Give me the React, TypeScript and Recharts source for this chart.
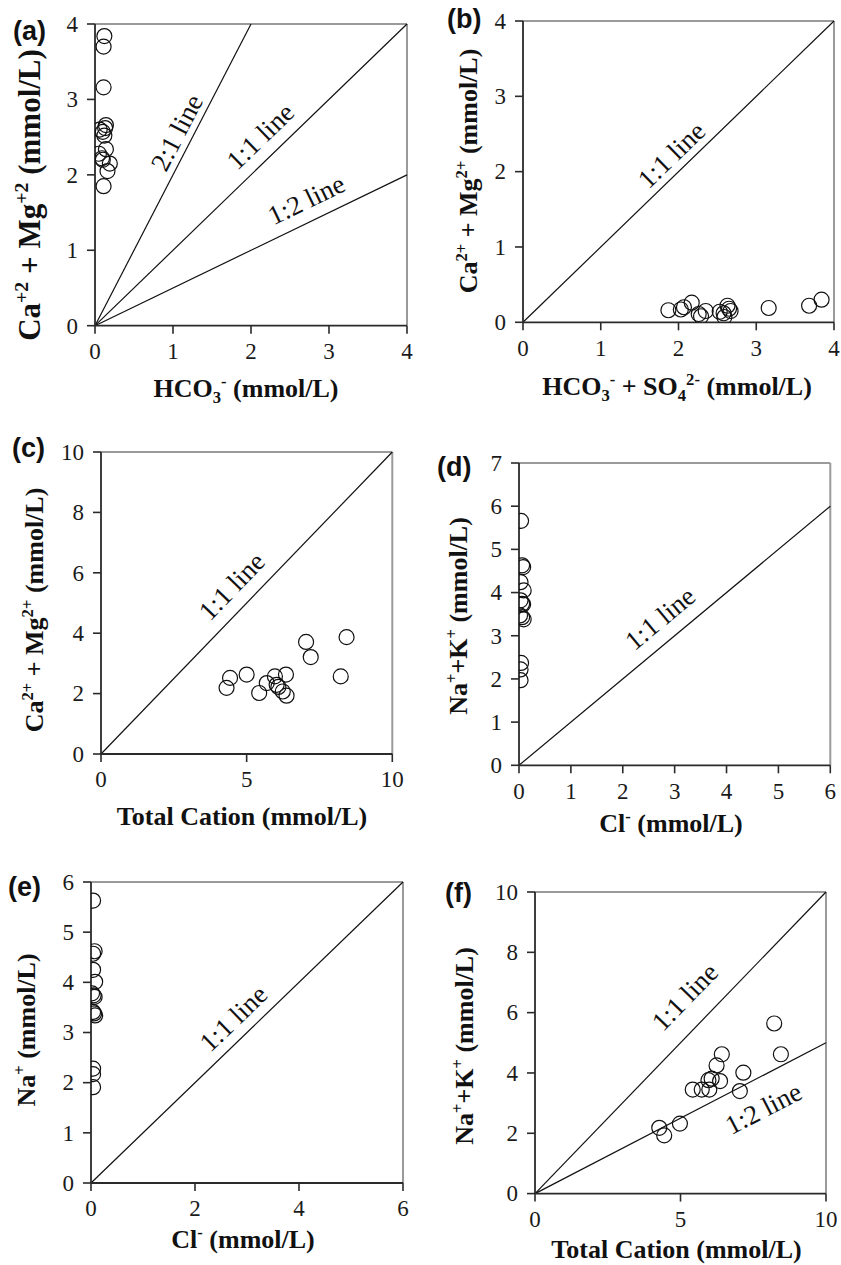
import React from 'react';
import { ScatterChart, Scatter, XAxis, YAxis, ReferenceLine, ReferenceDot } from 'recharts';

const SERIF = '"Liberation Serif"';
const SANS = '"Liberation Sans"';

// ---------- data ----------
// (a) HCO3- vs Ca+2 + Mg+2
const aX = [0.12, 0.11, 0.11, 0.14, 0.13, 0.06, 0.10, 0.12, 0.14, 0.05, 0.09, 0.10, 0.19, 0.16, 0.11];
const aY = [3.84, 3.70, 3.16, 2.66, 2.62, 2.60, 2.57, 2.52, 2.34, 2.28, 2.22, 2.20, 2.15, 2.05, 1.85];
// (b) HCO3- + SO4 2- vs Ca2+ + Mg2+
const bX = [1.87, 2.03, 2.07, 2.17, 2.26, 2.29, 2.35, 2.53, 2.58, 2.59, 2.63, 2.65, 2.67, 3.16, 3.68, 3.84];
const bY = [0.16, 0.17, 0.20, 0.26, 0.11, 0.08, 0.15, 0.14, 0.12, 0.07, 0.22, 0.18, 0.15, 0.19, 0.22, 0.30];
// (c) Total cation vs Ca2+ + Mg2+
const cX = [4.31, 4.43, 5.00, 5.43, 5.69, 5.97, 6.03, 6.09, 6.24, 6.37, 6.35, 7.04, 7.20, 8.23, 8.43];
const cY = [2.19, 2.52, 2.63, 2.02, 2.35, 2.57, 2.29, 2.22, 2.07, 1.93, 2.63, 3.71, 3.21, 2.57, 3.87];
// (d) Cl- vs Na+ + K+
const dX = [0.04, 0.06, 0.08, 0.03, 0.09, 0.03, 0.06, 0.08, 0.02, 0.06, 0.09, 0.04, 0.03, 0.03];
const dY = [5.66, 4.63, 4.59, 4.24, 4.05, 3.82, 3.74, 3.73, 3.47, 3.43, 3.38, 2.37, 2.22, 1.97];
// (e) Cl- vs Na+
const eX = [0.04, 0.07, 0.04, 0.04, 0.08, 0.02, 0.05, 0.07, 0.04, 0.06, 0.08, 0.04, 0.04, 0.04];
const eY = [5.63, 4.62, 4.57, 4.25, 4.01, 3.78, 3.74, 3.71, 3.41, 3.38, 3.34, 2.28, 2.17, 1.91];
// (f) Total cation vs Na+ + K+
const fX = [4.27, 4.44, 4.98, 5.42, 5.73, 5.99, 5.96, 6.07, 6.36, 6.24, 6.42, 7.16, 7.04, 8.22, 8.45];
const fY = [2.18, 1.93, 2.32, 3.45, 3.45, 3.45, 3.76, 3.81, 3.73, 4.25, 4.62, 4.01, 3.40, 5.64, 4.62];

// tick labels
const ticks0to4 = [0, 1, 2, 3, 4];
const ticks0to10by5 = [0, 5, 10];
const ticks0to10by2 = [0, 2, 4, 6, 8, 10];
const ticks0to6 = [0, 1, 2, 3, 4, 5, 6];
const ticks0to7 = [0, 1, 2, 3, 4, 5, 6, 7];
const ticks0to6by2 = [0, 2, 4, 6];

const toPts = (xs: number[], ys: number[]) => xs.map((x, i) => ({ x, y: ys[i] }));

type Part = { t: string; s?: 'sup' | 'sub' };

type Panel = {
  id: string;
  letter: string;
  box: { l: number; t: number; w: number; h: number };
  xMax: number;
  yMax: number;
  xTicks: number[];
  yTicks: number[];
  pts: { x: number; y: number }[];
  lines: { x: number; y: number }[][];
  labels: { x: number; y: number; text: string; angle: number }[];
  xTitle: Part[];
  yTitle: Part[];
  xTitlePos: [number, number];
  yTitlePos: [number, number];
  yTitleSize: number;
  letterPos: [number, number];
};

const O = { x: 0, y: 0 };

const panels: Panel[] = [
  {
    id: 'a', letter: '(a)',
    box: { l: 95, t: 24.3, w: 312, h: 301.7 },
    xMax: 4, yMax: 4, xTicks: ticks0to4, yTicks: ticks0to4,
    pts: toPts(aX, aY),
    lines: [[O, { x: 2, y: 4 }], [O, { x: 4, y: 4 }], [O, { x: 4, y: 2 }]],
    labels: [
      { x: 1.05, y: 2.56, text: '2:1 line', angle: -62.6 },
      { x: 2.12, y: 2.51, text: '1:1 line', angle: -44 },
      { x: 2.71, y: 1.67, text: '1:2 line', angle: -25.8 },
    ],
    xTitle: [{ t: 'HCO' }, { t: '3', s: 'sub' }, { t: '-', s: 'sup' }, { t: ' (mmol/L)' }],
    yTitle: [{ t: 'Ca' }, { t: '+2', s: 'sup' }, { t: ' + Mg' }, { t: '+2', s: 'sup' }, { t: ' (mmol/L)' }],
    xTitlePos: [246, 397], yTitlePos: [40, 195], yTitleSize: 31, letterPos: [13, 40],
  },
  {
    id: 'b', letter: '(b)',
    box: { l: 523, t: 20.7, w: 311, h: 301.3 },
    xMax: 4, yMax: 4, xTicks: ticks0to4, yTicks: ticks0to4,
    pts: toPts(bX, bY),
    lines: [[O, { x: 4, y: 4 }]],
    labels: [{ x: 1.91, y: 2.22, text: '1:1 line', angle: -44.1 }],
    xTitle: [{ t: 'HCO' }, { t: '3', s: 'sub' }, { t: '-', s: 'sup' }, { t: ' + SO' }, { t: '4', s: 'sub' }, { t: '2-', s: 'sup' }, { t: ' (mmol/L)' }],
    yTitle: [{ t: 'Ca' }, { t: '2+', s: 'sup' }, { t: ' + Mg' }, { t: '2+', s: 'sup' }, { t: ' (mmol/L)' }],
    xTitlePos: [677, 395], yTitlePos: [477, 171], yTitleSize: 26, letterPos: [447, 28],
  },
  {
    id: 'c', letter: '(c)',
    box: { l: 101, t: 452.3, w: 291.3, h: 302 },
    xMax: 10, yMax: 10, xTicks: ticks0to10by5, yTicks: ticks0to10by2,
    pts: toPts(cX, cY),
    lines: [[O, { x: 10, y: 10 }]],
    labels: [{ x: 4.49, y: 5.55, text: '1:1 line', angle: -46 }],
    xTitle: [{ t: 'Total Cation (mmol/L)' }],
    yTitle: [{ t: 'Ca' }, { t: '2+', s: 'sup' }, { t: ' + Mg' }, { t: '2+', s: 'sup' }, { t: ' (mmol/L)' }],
    xTitlePos: [242, 825], yTitlePos: [43, 610], yTitleSize: 26, letterPos: [12, 457],
  },
  {
    id: 'd', letter: '(d)',
    box: { l: 518.7, t: 462.7, w: 311.3, h: 302.3 },
    xMax: 6, yMax: 7, xTicks: ticks0to6, yTicks: ticks0to7,
    pts: toPts(dX, dY),
    lines: [[O, { x: 6, y: 6 }]],
    labels: [{ x: 2.72, y: 3.4, text: '1:1 line', angle: -39.8 }],
    xTitle: [{ t: 'Cl' }, { t: '-', s: 'sup' }, { t: ' (mmol/L)' }],
    yTitle: [{ t: 'Na' }, { t: '+', s: 'sup' }, { t: '+K' }, { t: '+', s: 'sup' }, { t: ' (mmol/L)' }],
    xTitlePos: [671, 832], yTitlePos: [467, 616], yTitleSize: 26, letterPos: [437, 476],
  },
  {
    id: 'e', letter: '(e)',
    box: { l: 90.7, t: 881.7, w: 312, h: 301 },
    xMax: 6, yMax: 6, xTicks: ticks0to6by2, yTicks: ticks0to6,
    pts: toPts(eX, eY),
    lines: [[O, { x: 6, y: 6 }]],
    labels: [{ x: 2.74, y: 3.28, text: '1:1 line', angle: -44 }],
    xTitle: [{ t: 'Cl' }, { t: '-', s: 'sup' }, { t: ' (mmol/L)' }],
    yTitle: [{ t: 'Na' }, { t: '+', s: 'sup' }, { t: ' (mmol/L)' }],
    xTitlePos: [243, 1248], yTitlePos: [35, 1030], yTitleSize: 26, letterPos: [8, 896],
  },
  {
    id: 'f', letter: '(f)',
    box: { l: 535, t: 891.7, w: 291, h: 301.6 },
    xMax: 10, yMax: 10, xTicks: ticks0to10by5, yTicks: ticks0to10by2,
    pts: toPts(fX, fY),
    lines: [[O, { x: 10, y: 10 }], [O, { x: 10, y: 5 }]],
    labels: [
      { x: 5.15, y: 6.52, text: '1:1 line', angle: -46 },
      { x: 7.85, y: 2.82, text: '1:2 line', angle: -27.4 },
    ],
    xTitle: [{ t: 'Total Cation (mmol/L)' }],
    yTitle: [{ t: 'Na' }, { t: '+', s: 'sup' }, { t: '+K' }, { t: '+', s: 'sup' }, { t: ' (mmol/L)' }],
    xTitlePos: [676.5, 1258], yTitlePos: [473, 1046], yTitleSize: 26, letterPos: [445, 902],
  },
];

const YW = 110;
const MT = 40;
const MR = 20;
const XH = 100;

const serifStyle: React.CSSProperties = { fontFamily: SERIF };

function RichText({ parts, size, x, y, rotate }: { parts: Part[]; size: number; x: number; y: number; rotate?: boolean }) {
  let cur = 0;
  const spans = parts.map((p, i) => {
    const target = p.s === 'sup' ? -0.4 * size : p.s === 'sub' ? 0.22 * size : 0;
    const dy = target - cur;
    cur = target;
    return (
      <tspan key={i} dy={dy} fontSize={p.s ? size * 0.64 : size}>
        {p.t}
      </tspan>
    );
  });
  return (
    <text
      x={x}
      y={y}
      textAnchor="middle"
      fontWeight="bold"
      fontSize={size}
      fill="#111"
      style={{ whiteSpace: 'pre', fontFamily: SERIF }}
      transform={rotate ? `rotate(-90 ${x} ${y})` : undefined}
    >
      {spans}
    </text>
  );
}

const circleShape = (p: any) => (
  <circle cx={p.cx} cy={p.cy} r={7.5} fill="none" stroke="#111" strokeWidth={1.2} />
);

const SerifTick = (props: any) => {
  const { x, y, payload, textAnchor, verticalAnchor } = props;
  const dy = verticalAnchor === 'start' ? '0.71em' : verticalAnchor === 'middle' ? '0.34em' : '0';
  return (
    <text x={x} y={y} dy={dy} textAnchor={textAnchor} fontSize={23} fill="#1a1a1a" style={serifStyle}>
      {payload.value}
    </text>
  );
};

function PanelChart({ p }: { p: Panel }) {
  const { box } = p;
  return (
    <div style={{ position: 'absolute', left: box.l - YW, top: box.t - MT }}>
      <ScatterChart
        width={box.w + YW + MR}
        height={box.h + MT + XH}
        margin={{ top: MT, right: MR, bottom: 0, left: 0 }}
        style={serifStyle}
      >
        <XAxis
          type="number"
          dataKey="x"
          domain={[0, p.xMax]}
          ticks={p.xTicks}
          interval={0}
          allowDataOverflow
          height={XH}
          tick={<SerifTick />}
          tickSize={8}
          tickMargin={9}
          axisLine={{ stroke: '#2a2a2a', strokeWidth: 1.8 }}
          tickLine={{ stroke: '#2a2a2a', strokeWidth: 1.6 }}
        />
        <YAxis
          type="number"
          dataKey="y"
          domain={[0, p.yMax]}
          ticks={p.yTicks}
          interval={0}
          allowDataOverflow
          width={YW}
          tick={<SerifTick />}
          tickSize={8}
          tickMargin={9}
          axisLine={{ stroke: '#2a2a2a', strokeWidth: 1.8 }}
          tickLine={{ stroke: '#2a2a2a', strokeWidth: 1.6 }}
        />
        <ReferenceLine y={p.yMax} stroke="#9a9a9a" strokeWidth={2} ifOverflow="visible" />
        <ReferenceLine x={p.xMax} stroke="#9a9a9a" strokeWidth={2} ifOverflow="visible" />
        {p.lines.map((seg, i) => (
          <ReferenceLine key={`l${i}`} segment={seg} stroke="#111" strokeWidth={1.2} ifOverflow="visible" />
        ))}
        {p.labels.map((lb, i) => (
          <ReferenceDot
            key={`t${i}`}
            x={lb.x}
            y={lb.y}
            r={0}
            ifOverflow="visible"
            shape={(sp: any) => (
              <text
                x={sp.cx}
                y={sp.cy}
                textAnchor="middle"
                dominantBaseline="central"
                transform={`rotate(${lb.angle} ${sp.cx} ${sp.cy})`}
                fontSize={27}
                fill="#111"
                style={serifStyle}
              >
                {lb.text}
              </text>
            )}
          />
        ))}
        <Scatter data={p.pts} isAnimationActive={false} shape={circleShape} />
      </ScatterChart>
    </div>
  );
}

export default function App() {
  return (
    <div style={{ position: 'absolute', left: 0, top: 0, width: 841, height: 1265, background: '#fff', overflow: 'hidden', fontFamily: SERIF }}>
      {panels.map((p) => (
        <PanelChart key={p.id} p={p} />
      ))}
      <svg width={841} height={1265} style={{ position: 'absolute', left: 0, top: 0, pointerEvents: 'none' }}>
        {panels.map((p) => (
          <g key={p.id}>
            <text x={p.letterPos[0]} y={p.letterPos[1]} fontWeight="bold" fontSize={27} fill="#111" style={{ fontFamily: SANS }}>
              {p.letter}
            </text>
            <RichText parts={p.xTitle} size={26} x={p.xTitlePos[0]} y={p.xTitlePos[1]} />
            <RichText parts={p.yTitle} size={p.yTitleSize} x={p.yTitlePos[0]} y={p.yTitlePos[1]} rotate />
          </g>
        ))}
      </svg>
    </div>
  );
}
